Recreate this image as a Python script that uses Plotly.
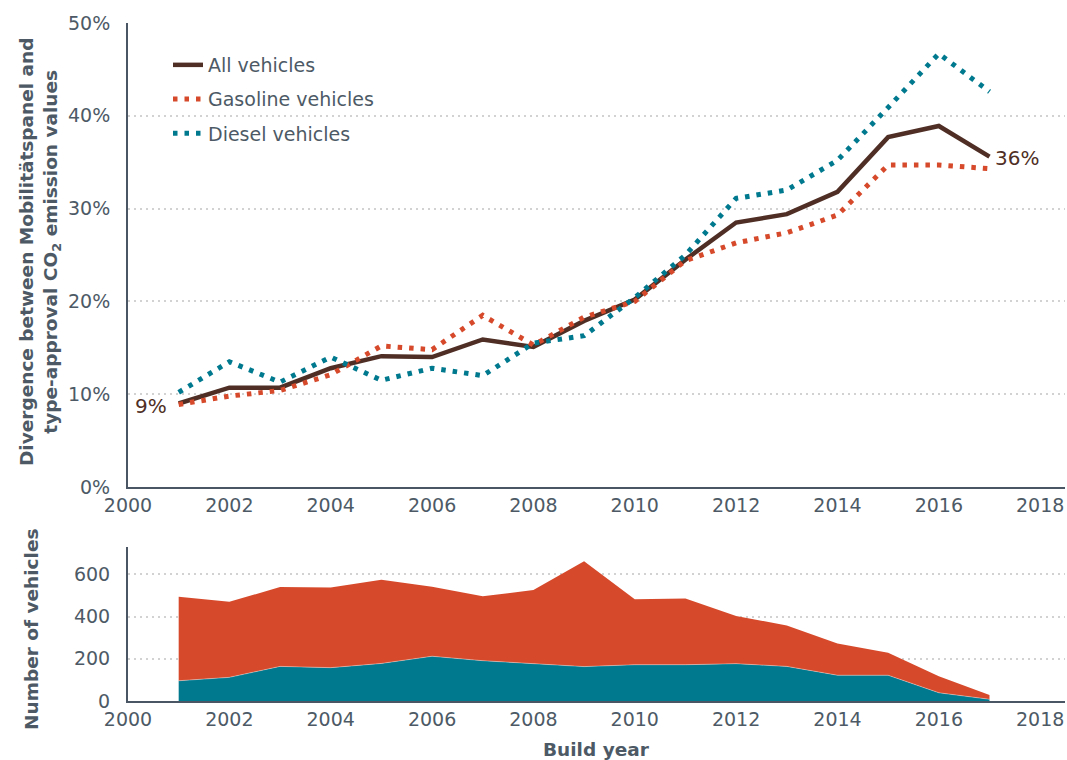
import plotly.graph_objects as go
from plotly.subplots import make_subplots

years = list(range(2001, 2018))

# Divergence (%) between Mobilitätspanel and type-approval CO2 values
all_vehicles = [9.0, 10.7, 10.7, 12.8, 14.1, 14.0, 15.9, 15.1, 17.9, 20.2, 24.5, 28.5, 29.4, 31.8, 37.7, 38.9, 35.6]
gasoline = [8.9, 9.8, 10.4, 12.1, 15.2, 14.8, 18.5, 15.3, 18.3, 20.0, 24.4, 26.3, 27.4, 29.3, 34.7, 34.7, 34.3]
diesel = [10.2, 13.5, 11.3, 14.0, 11.5, 12.8, 12.0, 15.5, 16.3, 20.4, 25.0, 31.1, 32.0, 35.2, 40.9, 46.7, 42.6]

# Number of vehicles per build year
diesel_count = [96, 112, 164, 158, 178, 212, 191, 178, 163, 172, 172, 177, 164, 122, 122, 39, 8]
gasoline_count = [398, 358, 376, 380, 397, 330, 305, 348, 500, 310, 314, 226, 194, 151, 107, 78, 20]

x_ticks = list(range(2000, 2019, 2))
pct_ticks = [0, 10, 20, 30, 40, 50]
pct_labels = ["0%", "10%", "20%", "30%", "40%", "50%"]
count_ticks = [0, 200, 400, 600]

BROWN = "#4f2f25"
RED = "#d64a2b"
TEAL = "#00798f"
GRAY = "#4a5663"
TXT = "#4d5a66"
GRID = "#d2d2d2"
FONT = "DejaVu Sans"

fig = make_subplots(rows=2, cols=1, shared_xaxes=False, vertical_spacing=0.0)

fig.add_trace(go.Scatter(x=years, y=all_vehicles, mode="lines", name="All vehicles",
                         legendgroup="a",
                         line=dict(color=BROWN, width=4.5)), row=1, col=1)
fig.add_trace(go.Scatter(x=years, y=gasoline, mode="lines", name="Gasoline vehicles",
                         legendgroup="b",
                         line=dict(color=RED, width=5, dash="4.5px,7px")), row=1, col=1)
fig.add_trace(go.Scatter(x=years, y=diesel, mode="lines", name="Diesel vehicles",
                         legendgroup="c",
                         line=dict(color=TEAL, width=5, dash="4.5px,7px")), row=1, col=1)

fig.add_trace(go.Scatter(x=years, y=diesel_count, mode="lines", stackgroup="n",
                         showlegend=False, fillcolor=TEAL,
                         line=dict(color="rgba(255,255,255,0.35)", width=1)), row=2, col=1)
fig.add_trace(go.Scatter(x=years, y=gasoline_count, mode="lines", stackgroup="n",
                         showlegend=False, fillcolor=RED,
                         line=dict(color=RED, width=0)), row=2, col=1)

top_dom = [(701 - 487) / 678, 1.0]
bot_dom = [0.0, (701 - 547) / 678]

axis_common = dict(showline=True, linecolor=GRAY, linewidth=2, automargin=False,
                   tickfont=dict(family=FONT, size=19, color=TXT), ticks="",
                   zeroline=False)

fig.update_xaxes(range=[2000, 2018.49], tickvals=x_ticks, showgrid=False, **axis_common)
fig.update_yaxes(showgrid=True, gridcolor=GRID, griddash="2px,4px", gridwidth=1.5,
                 ticklabelstandoff=12, **axis_common)

fig.update_layout(
    yaxis=dict(domain=top_dom, range=[0, 50], tickvals=pct_ticks, ticktext=pct_labels),
    yaxis2=dict(domain=bot_dom, range=[0, 730], tickvals=count_ticks),
    xaxis=dict(anchor="y"),
    xaxis2=dict(anchor="y2"),
)

fig.add_annotation(x=2001, y=all_vehicles[0], xref="x", yref="y", text="9%",
                   showarrow=False, xanchor="right", yanchor="middle", xshift=-10, yshift=-3,
                   font=dict(family=FONT, size=20, color=BROWN))
fig.add_annotation(x=2017, y=all_vehicles[-1], xref="x", yref="y", text="36%",
                   showarrow=False, xanchor="left", yanchor="middle", xshift=4, yshift=-1,
                   font=dict(family=FONT, size=20, color=BROWN))

fig.add_annotation(x=(40 - 128) / 937, y=(701 - 252) / 678, xref="paper", yref="paper",
                   text="<b>Divergence between Mobilitätspanel and<br>type-approval CO<sub>2</sub> emission values</b>",
                   textangle=-90, showarrow=False, xanchor="center", yanchor="middle",
                   font=dict(family=FONT, size=18.5, color=TXT))
fig.add_annotation(x=(31 - 128) / 937, y=(701 - 630) / 678, xref="paper", yref="paper",
                   text="<b>Number of vehicles</b>",
                   textangle=-90, showarrow=False, xanchor="center", yanchor="middle",
                   font=dict(family=FONT, size=18.5, color=TXT))
fig.add_annotation(x=0.5, y=(701 - 749) / 678, xref="paper", yref="paper",
                   text="<b>Build year</b>", showarrow=False, xanchor="center", yanchor="middle",
                   font=dict(family=FONT, size=18.5, color=TXT))

fig.update_layout(
    width=1067, height=760,
    margin=dict(l=128, r=2, t=23, b=59, autoexpand=False),
    paper_bgcolor="white", plot_bgcolor="white",
    showlegend=True,
    legend=dict(x=(168 - 128) / 937, y=(701 - 46) / 678, xanchor="left", yanchor="top",
                bgcolor="rgba(0,0,0,0)", tracegroupgap=6.5,
                font=dict(family=FONT, size=19, color=TXT)),
)

# remove the default page margin so the figure fills the 1067x760 window exactly
fig.write_html("out.html",
               config={"displayModeBar": False},
               post_script="document.body.style.margin='0px';"
                           "document.body.style.overflow='hidden';")
